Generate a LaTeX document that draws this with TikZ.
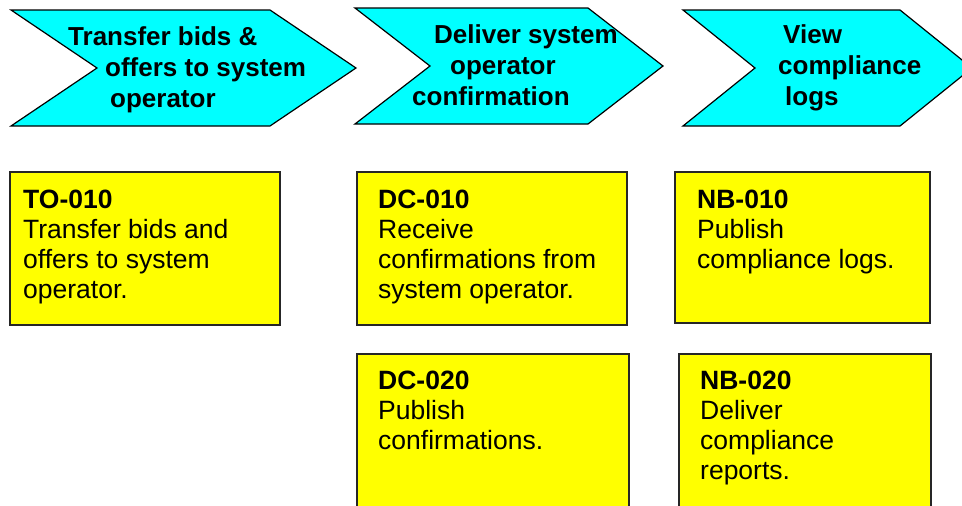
\documentclass[tikz,border=0pt]{standalone}
\usepackage{fontspec}
\setmainfont{Liberation Sans}
\definecolor{stagecyan}{RGB}{0,255,255}
\definecolor{taskyellow}{RGB}{255,255,0}
\begin{document}
\begin{tikzpicture}[x=1pt,y=-1pt, line join=miter,
	stage/.style={fill=stagecyan, draw=black, line width=1.2pt},
	stagetext/.style={font=\fontsize{26}{31}\selectfont\bfseries, align=left, anchor=base west, inner sep=0pt},
	task/.style={fill=taskyellow, draw=black!85, line width=1.6pt, inner sep=0pt, outer sep=0pt, anchor=north west},
	tasktext/.style={font=\fontsize{26.5}{30}\selectfont, align=left, anchor=base west, inner sep=0pt}]
	\useasboundingbox (0,0) rectangle (962,506);
	\def\top{10} \def\bot{126} \def\mid{68} % chevron rows
	\draw[stage] (11,\top)--(270,\top)--(356,\mid)--(270,\bot)--(11,\bot)--(97,\mid)--cycle;
	\draw[stage] (355,8)--(588,8)--(663,66)--(588,124)--(355,124)--(430,66)--cycle;
	\draw[stage] (683,\top)--(900,\top)--(972,\mid)--(900,\bot)--(683,\bot)--(755,\mid)--cycle;
	% base anchor = baseline of the last line
	\node[stagetext] (st1) at (68,107) {Transfer bids \&\\\hspace*{37pt}offers to system\\\hspace*{42pt}operator};
	\node[stagetext] (st2) at (434,105) {Deliver system\\\hspace*{16pt}operator\\\hspace*{-22pt}confirmation};
	\node[stagetext] (st3) at (783,105) {View\\\hspace*{-5pt}compliance\\\hspace*{2pt}logs};
	\node[task, minimum width=270pt, minimum height=153pt] (to010) at (10,172) {};
	\node[task, minimum width=270pt, minimum height=153pt] (dc010) at (357,172) {};
	\node[task, minimum width=255pt, minimum height=151pt] (nb010) at (675,172) {};
	\node[task, minimum width=272pt, minimum height=160pt] (dc020) at (357,354) {};
	\node[task, minimum width=252pt, minimum height=160pt] (nb020) at (679,354) {};
	\node[tasktext] (to010txt) at (23,298) {\textbf{TO-010}\\Transfer bids and\\offers to system\\operator.};
	\node[tasktext] (dc010txt) at (378,298) {\textbf{DC-010}\\Receive\\confirmations from\\system operator.};
	\node[tasktext] (nb010txt) at (697,268) {\textbf{NB-010}\\Publish\\compliance logs.};
	\node[tasktext] (dc020txt) at (378,449) {\textbf{DC-020}\\Publish\\confirmations.};
	\node[tasktext] (nb020txt) at (700,479) {\textbf{NB-020}\\Deliver\\compliance\\reports.};
\end{tikzpicture}
\end{document}
